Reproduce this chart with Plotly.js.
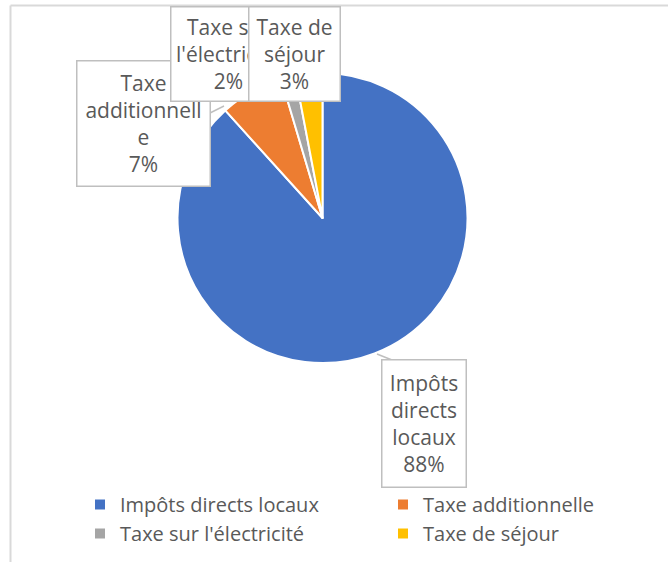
<!DOCTYPE html>
<html>
<head>
<meta charset="utf-8">
<script src="https://cdn.plot.ly/plotly-3.0.1.min.js"></script>
<style>html,body{margin:0;padding:0;background:#fff;}#chart{width:668px;height:562px;}</style>
</head>
<body>
<div id="chart"></div>
<script>
// ---- data ----
const categories = ["Impôts directs locaux", "Taxe additionnelle", "Taxe sur l'électricité", "Taxe de séjour"];
const values = [88.3, 7.1, 1.6, 3.0];
const colors = ["#4472C4", "#ED7D31", "#A5A5A5", "#FFC000"];
const calloutText = ["Impôts<br>directs<br>locaux", "Taxe<br>additionnell<br>e", "Taxe sur<br>l'électricité", "Taxe de<br>séjour"];

const W = 668, H = 562;
const xp = px => px / W;
const yp = py => 1 - py / H;
const total = values.reduce((a, b) => a + b, 0);
const pct = values.map(v => Math.round(v / total * 100) + "%");

// callout boxes (pixel boxes: left, top, right, bottom)
const boxes = [
  [381, 359, 466, 487],
  [76, 61, 210, 187],
  [170, 7, 286, 102],
  [248, 7, 340, 102]
];
const drawOrder = [0, 1, 2, 3];
const annotations = drawOrder.map(i => {
  const b = boxes[i];
  return {
    xref: "paper", yref: "paper",
    x: xp((b[0] + b[2]) / 2), y: yp((b[1] + b[3]) / 2),
    xanchor: "center", yanchor: "middle",
    width: b[2] - b[0] - 2, height: b[3] - b[1] - 2,
    text: calloutText[i] + "<br>" + pct[i],
    showarrow: false,
    align: "center", valign: "middle",
    bgcolor: "#ffffff", bordercolor: "#BFBFBF", borderwidth: 1.5, borderpad: 0,
    font: {family: "Open Sans, sans-serif", size: 21, color: "#595959"}
  };
});

const shapes = [
  {type: "line", xref: "paper", yref: "paper", x0: xp(10.5), x1: xp(668), y0: yp(5.5), y1: yp(5.5), line: {color: "#D9D9D9", width: 2}},
  {type: "line", xref: "paper", yref: "paper", x0: xp(10.5), x1: xp(10.5), y0: yp(5.5), y1: yp(562), line: {color: "#D9D9D9", width: 2}},
  {type: "line", xref: "paper", yref: "paper", x0: xp(377), x1: xp(392), y0: yp(354), y1: yp(360), line: {color: "#BFBFBF", width: 1.5}},
  {type: "line", xref: "paper", yref: "paper", x0: xp(210), x1: xp(224), y0: yp(113), y1: yp(106), line: {color: "#BFBFBF", width: 1.5}}
];

const cx = 322.5, cy = 218, r = 145;
const trace = {
  type: "pie",
  labels: categories,
  values: values,
  sort: false,
  direction: "clockwise",
  rotation: 0,
  textinfo: "none",
  hoverinfo: "none",
  marker: {colors: colors, line: {color: "#ffffff", width: 2}},
  domain: {x: [xp(cx - r), xp(cx + r)], y: [yp(cy + r), yp(cy - r)]}
};

const layout = {
  width: W, height: H,
  margin: {l: 0, r: 0, t: 0, b: 0, autoexpand: false},
  paper_bgcolor: "#ffffff",
  showlegend: true,
  legend: {
    orientation: "h",
    x: xp(80), y: yp(485), xanchor: "left", yanchor: "top",
    entrywidth: 258, entrywidthmode: "pixels",
    font: {family: "Open Sans, sans-serif", size: 20, color: "#595959"},
    traceorder: "normal",
    bgcolor: "rgba(0,0,0,0)"
  },
  annotations: annotations,
  shapes: shapes
};

Plotly.newPlot("chart", [trace], layout, {staticPlot: true});
</script>
</body>
</html>
